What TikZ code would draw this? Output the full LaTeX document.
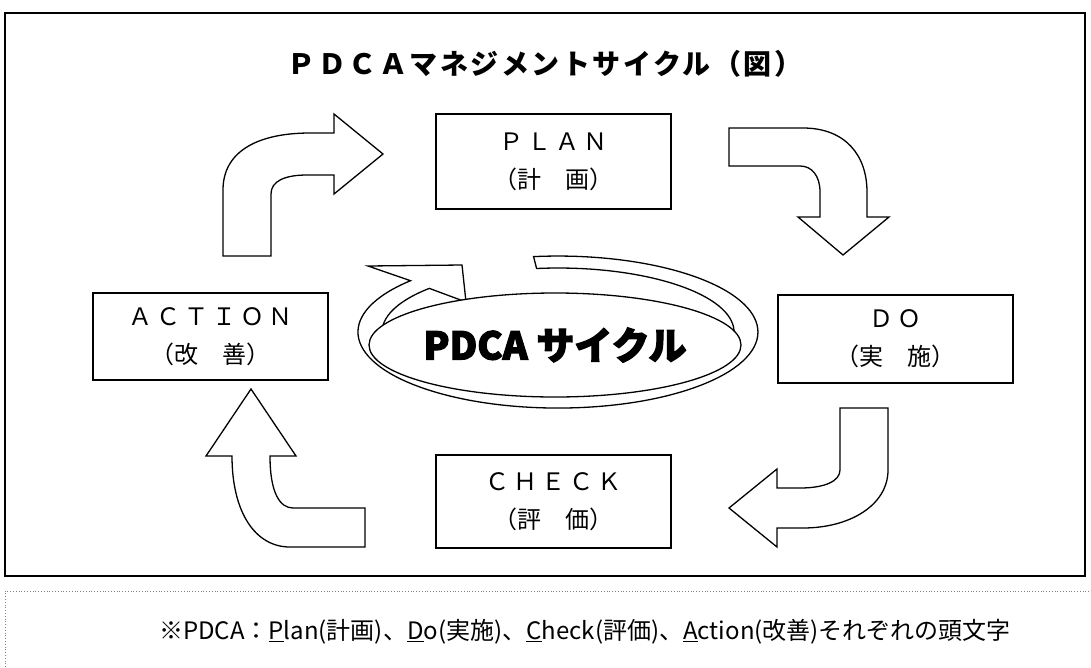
\documentclass[tikz,border=0pt]{standalone}
\usepackage{fontspec}
\usetikzlibrary{shapes.geometric}
\newfontfamily\jp{Noto Sans CJK JP}
\newfontfamily\jpwide[LetterSpace=17]{Noto Sans CJK JP}
\newfontfamily\jptitle[LetterSpace=9]{Noto Sans CJK JP}
\newfontfamily\jppop[FakeBold=3]{Noto Sans CJK JP}
\begin{document}
\begin{tikzpicture}[x=1pt,y=-1pt,
  stepbox/.style={draw,line width=1.8pt,minimum width=235pt,inner sep=0pt,align=center,
    font=\jp\fontsize{24}{38}\selectfont},
  blk/.style={draw,line width=1.3pt,fill=white,line join=miter},
  ring/.style={draw,line width=1.3pt,fill=white,line join=miter}]
\useasboundingbox (0,0) rectangle (1091,667);
% outer frame
\draw[line width=2.2pt] (5,13) rectangle (1085,576);
% title
\node[font=\jptitle\bfseries\fontsize{28}{30}\selectfont] (title) at (545,64) {ＰＤＣＡマネジメントサイクル（図）};
% boxes
\node[stepbox,minimum height=95pt] (plan) at (553.5,161.5) {{\jpwide ＰＬＡＮ}\\（計　画）};
\node[stepbox,minimum height=88pt] (do) at (895.5,339) {{\jpwide ＤＯ}\\（実　施）};
\node[stepbox,minimum height=93pt] (check) at (553.5,501.5) {{\jpwide ＣＨＥＣＫ}\\（評　価）};
\node[stepbox,minimum height=87pt] (action) at (210.5,336.5) {{\jpwide ＡＣＴＩＯＮ}\\（改　善）};
% block arrows
\draw[blk] (223,256) -- (223,190) .. controls (223,150) and (260,133) .. (310,133)
  -- (334,133) -- (334,114) -- (383,154) -- (334,194) -- (334,175) -- (307,175)
  .. controls (285,175) and (271,181) .. (271,194) -- (271,256) -- cycle;
\draw[blk] (729,128) -- (803,128) .. controls (845,128) and (867,155) .. (867,192)
  -- (867,217) -- (889,217) -- (843,255) -- (798,217) -- (820,217) -- (820,192)
  .. controls (820,176) and (812,166) .. (800,166) -- (729,166) -- cycle;
\draw[blk] (840,408) -- (888,408) -- (888,470) .. controls (888,505) and (850,528) .. (803,528)
  -- (777,528) -- (777,547) -- (729,508) -- (777,469) -- (777,488) -- (800,488)
  .. controls (825,488) and (840,481) .. (840,470) -- cycle;
\draw[blk] (251,389) -- (296,456) -- (270,456) .. controls (270,493) and (280,508) .. (293,508)
  -- (365,508) -- (365,547) -- (290,547) .. controls (255,547) and (232,512) .. (232,456)
  -- (206,456) -- cycle;
% ring arrow
\draw[ring] (536.6,268.5) arc[start angle=-97,end angle=223,x radius=176,y radius=64]
  -- (466,302) -- (462,265) -- (368,266) -- (410.5,280.7)
  arc[start angle=222.5,end angle=-97,x radius=200,y radius=76] -- cycle;
% centre ellipse
\node[ellipse,draw,fill=white,line width=1.3pt,minimum width=346pt,minimum height=104pt,inner sep=0pt,
  font=\jppop\bfseries\fontsize{38}{40}\selectfont] (pdca) at (555,345) {PDCA サイクル};
% note
\draw[dotted,line width=0.8pt,gray] (5,667) -- (5,591) -- (1091,591);
\node[font=\jp\fontsize{24}{26}\selectfont] (note) at (585,632)
  {※PDCA：\underline{P}lan(計画)、\underline{D}o(実施)、\underline{C}heck(評価)、\underline{A}ction(改善)それぞれの頭文字};
\end{tikzpicture}
\end{document}
